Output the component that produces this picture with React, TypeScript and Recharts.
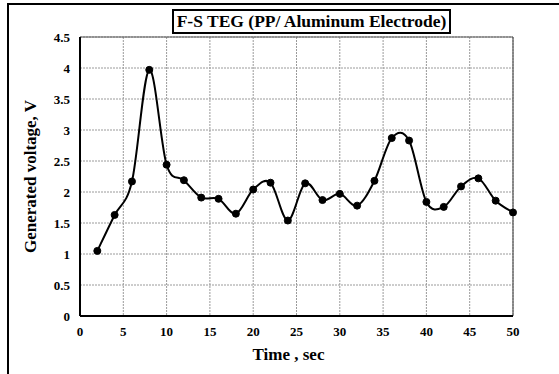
import React from 'react'
import {
  LineChart,
  Line,
  XAxis,
  YAxis,
  CartesianGrid,
  ReferenceLine,
} from 'recharts'

const TIMES = [2, 4, 6, 8, 10, 12, 14, 16, 18, 20, 22, 24, 26, 28, 30, 32, 34, 36, 38, 40, 42, 44, 46, 48, 50]
const VOLTAGES = [
  1.05, 1.63, 2.17, 3.97, 2.44, 2.19, 1.91, 1.89, 1.65, 2.04, 2.15, 1.54, 2.14,
  1.87, 1.97, 1.78, 2.18, 2.87, 2.83, 1.84, 1.76, 2.09, 2.22, 1.86, 1.67,
]
const X_TICKS = [0, 5, 10, 15, 20, 25, 30, 35, 40, 45, 50]
const Y_TICKS = [0, 0.5, 1, 1.5, 2, 2.5, 3, 3.5, 4, 4.5]

const data = TIMES.map((t, i) => ({ t, v: VOLTAGES[i] }))

const SERIF = '"Liberation Serif", "Times New Roman", serif'

// smooth line that goes through every point, like the spreadsheet "smoothed line"
function smoothCurve(context: any) {
  let pts: number[][] = []
  return {
    areaStart() {},
    areaEnd() {},
    lineStart() {
      pts = []
    },
    point(x: number, y: number) {
      pts.push([+x, +y])
    },
    lineEnd() {
      const n = pts.length
      if (!n) return
      context.moveTo(pts[0][0], pts[0][1])
      for (let i = 0; i < n - 1; i++) {
        const p0 = pts[Math.max(i - 1, 0)]
        const p1 = pts[i]
        const p2 = pts[i + 1]
        const p3 = pts[Math.min(i + 2, n - 1)]
        context.bezierCurveTo(
          p1[0] + (p2[0] - p0[0]) / 6,
          p1[1] + (p2[1] - p0[1]) / 6,
          p2[0] - (p3[0] - p1[0]) / 6,
          p2[1] - (p3[1] - p1[1]) / 6,
          p2[0],
          p2[1]
        )
      }
    },
  }
}

const XTick = (props: any) => {
  const { x, y, payload } = props
  return (
    <text x={x} y={y + 12} textAnchor="middle" fill="#000" fontFamily={SERIF} fontWeight={700} fontSize={13}>
      {payload.value}
    </text>
  )
}

const YTick = (props: any) => {
  const { x, y, payload } = props
  return (
    <text x={x} y={y + 4.5} textAnchor="end" fill="#000" fontFamily={SERIF} fontWeight={700} fontSize={13}>
      {payload.value}
    </text>
  )
}

const labelStyle = { fill: '#000', fontFamily: SERIF, fontWeight: 700, fontSize: 17 }

export default function App() {
  return (
    <div
      style={{
        position: 'absolute',
        left: 0,
        top: 0,
        width: 559,
        height: 374,
        background: '#fff',
        fontFamily: SERIF,
      }}
    >
      {/* outer frame, top and left only */}
      <div style={{ position: 'absolute', left: 7, top: 3, width: 552, height: 2, background: '#000' }} />
      <div style={{ position: 'absolute', left: 7, top: 3, width: 2, height: 371, background: '#000' }} />

      {/* title box */}
      <div
        style={{
          position: 'absolute',
          left: 172,
          top: 9,
          width: 275,
          height: 21,
          border: '2px solid #000',
          fontFamily: SERIF,
          fontWeight: 700,
          fontSize: 17.5,
          lineHeight: '21px',
          textAlign: 'center',
          color: '#000',
          whiteSpace: 'nowrap',
        }}
      >
        F-S TEG (PP/ Aluminum Electrode)
      </div>

      <LineChart
        width={559}
        height={374}
        data={data}
        margin={{ top: 37, right: 46, bottom: 28, left: 0 }}
      >
        <CartesianGrid stroke="#9a9a9a" strokeDasharray="2 1" />
        <XAxis
          dataKey="t"
          type="number"
          domain={[0, 50]}
          ticks={X_TICKS}
          interval={0}
          axisLine={{ stroke: '#000', strokeWidth: 2 }}
          tickLine={false}
          tick={<XTick />}
          height={30}
          label={{
            value: 'Time , sec',
            position: 'bottom',
            offset: 2,
            dx: -8,
            style: labelStyle,
          }}
        />
        <YAxis
          type="number"
          domain={[0, 4.5]}
          ticks={Y_TICKS}
          interval={0}
          width={80}
          axisLine={{ stroke: '#000', strokeWidth: 2 }}
          tickLine={false}
          tickMargin={4}
          tick={<YTick />}
          label={{
            value: 'Generated voltage, V',
            angle: -90,
            position: 'center',
            dx: -10,
            style: { ...labelStyle, textAnchor: 'middle' },
          }}
        />
        <ReferenceLine y={4.5} stroke="#555" strokeWidth={1.2} />
        <ReferenceLine x={50} stroke="#555" strokeWidth={1.2} />
        <Line
          dataKey="v"
          type={smoothCurve as any}
          stroke="#000"
          strokeWidth={2}
          dot={{ r: 3.5, fill: '#000', stroke: '#000', strokeWidth: 1 }}
          isAnimationActive={false}
        />
      </LineChart>
    </div>
  )
}
